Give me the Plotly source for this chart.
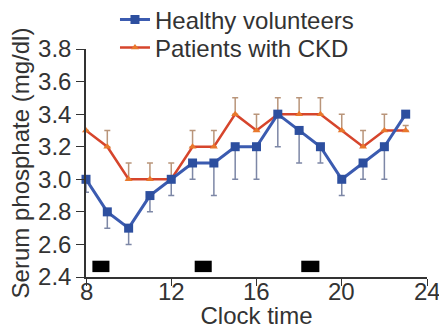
import plotly.graph_objects as go

# Data
clock_time = [8, 9, 10, 11, 12, 13, 14, 15, 16, 17, 18, 19, 20, 21, 22, 23]
healthy = [3.0, 2.8, 2.7, 2.9, 3.0, 3.1, 3.1, 3.2, 3.2, 3.4, 3.3, 3.2, 3.0, 3.1, 3.2, 3.4]
healthy_err_minus = [0.08, 0.1, 0.1, 0.1, 0.1, 0.1, 0.2, 0.2, 0.2, 0.2, 0.2, 0.1, 0.1, 0.1, 0.2, 0.0]
ckd = [3.3, 3.2, 3.0, 3.0, 3.0, 3.2, 3.2, 3.4, 3.3, 3.4, 3.4, 3.4, 3.3, 3.2, 3.3, 3.3]
ckd_err_plus = [0.0, 0.1, 0.1, 0.1, 0.1, 0.1, 0.1, 0.1, 0.1, 0.1, 0.1, 0.1, 0.1, 0.1, 0.1, 0.03]
meal_start = [8.3, 13.1, 18.1]
meal_end = [9.1, 13.9, 18.95]
meal_y = [2.43, 2.5]
x_ticks = [8, 12, 16, 20, 24]
y_ticks = [2.4, 2.6, 2.8, 3.0, 3.2, 3.4, 3.6, 3.8]

FONT = "Liberation Sans, Arial, sans-serif"
TXT = "#333333"

fig = go.Figure()
fig.add_trace(go.Scatter(
    x=clock_time, y=ckd, name="Patients with CKD", mode="lines+markers",
    line=dict(color="#d6452c", width=2.5),
    marker=dict(symbol="triangle-up", size=7, color="#e9782c"),
    error_y=dict(type="data", symmetric=False, array=ckd_err_plus,
                 arrayminus=[0] * len(ckd), color="#b9957a", thickness=1.5, width=3),
    cliponaxis=False, legend="legend2",
))
fig.add_trace(go.Scatter(
    x=clock_time, y=healthy, name="Healthy volunteers", mode="lines+markers",
    line=dict(color="#3b5bb0", width=3),
    marker=dict(symbol="square", size=9, color="#2d4f9f"),
    error_y=dict(type="data", symmetric=False, array=[0] * len(healthy),
                 arrayminus=healthy_err_minus, color="#7d87a6", thickness=1.5, width=3),
    cliponaxis=False, legend="legend",
))

for s, e in zip(meal_start, meal_end):
    fig.add_shape(type="rect", xref="x", yref="y", x0=s, x1=e, y0=meal_y[0], y1=meal_y[1],
                  fillcolor="black", line=dict(width=0))

# x tick labels placed just under the ticks
for t in x_ticks:
    fig.add_annotation(x=t, y=0, xref="x", yref="paper", text=str(t), showarrow=False,
                       yanchor="top", yshift=1, font=dict(size=24, color=TXT),
                       xanchor="center")

leg_common = dict(xanchor="left", yanchor="middle",
                  font=dict(size=24, color=TXT), bgcolor="rgba(0,0,0,0)", itemwidth=30)

fig.update_layout(
    width=439, height=330,
    margin=dict(l=86, r=12, t=49, b=53, autoexpand=False),
    paper_bgcolor="white", plot_bgcolor="white",
    font=dict(family=FONT, size=24, color=TXT),
    showlegend=True,
    legend=dict(x=0.085, y=(277 - 20) / 228, **leg_common),
    legend2=dict(x=0.085, y=(277 - 48) / 228, **leg_common),
    xaxis=dict(range=[8, 24], tickvals=x_ticks, showticklabels=False, showline=True,
               linecolor=TXT, linewidth=1.5, ticks="outside", ticklen=7, tickcolor=TXT,
               showgrid=False, zeroline=False, automargin=False,
               title=dict(text="Clock time", standoff=22, font=dict(size=24))),
    yaxis=dict(range=[2.4, 3.8], tickvals=y_ticks, tickformat=".1f", showline=True,
               linecolor=TXT, linewidth=1.5, ticks="outside", ticklen=8,
               tickcolor=TXT, showgrid=False, zeroline=False, automargin=False,
               title=dict(text="Serum phosphate (mg/dl)", standoff=2, font=dict(size=24))),
)

fig.write_html("out.html")
